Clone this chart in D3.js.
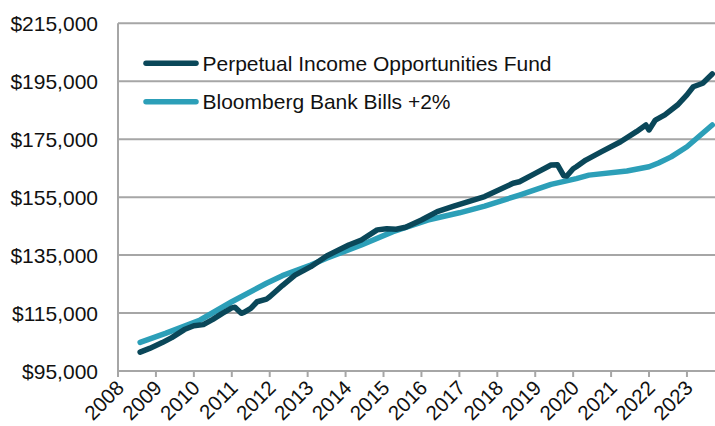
<!DOCTYPE html>
<html><head><meta charset="utf-8">
<script src="https://cdn.jsdelivr.net/npm/d3@7"></script>
<style>body{margin:0;background:#fff}svg{display:block}text{font-family:"Liberation Sans",Arial,sans-serif}</style>
</head><body><svg id="c" width="715" height="426"></svg>
<script>
const years = ["2008","2009","2010","2011","2012","2013","2014","2015","2016","2017","2018","2019","2020","2021","2022","2023"];
const yTicks = [95000,115000,135000,155000,175000,195000,215000];
const seriesNames = ["Perpetual Income Opportunities Fund","Bloomberg Bank Bills +2%"];
const seriesColors = ["#0a4759","#2c9fb8"];

const fundDates = ["2008-08","2008-11","2009-03","2009-06","2009-10","2010-01","2010-04","2010-07","2010-10","2011-01","2011-02","2011-04","2011-05","2011-07","2011-09","2011-12","2012-01","2012-05","2012-09","2013-02","2013-07","2014-02","2014-06","2014-11","2015-02","2015-05","2015-08","2016-01","2016-06","2016-11","2017-09","2018-06","2018-08","2019-01","2019-06","2019-08","2019-10","2019-11","2020-01","2020-02","2020-05","2020-10","2021-04","2021-09","2021-12","2022-01","2022-03","2022-06","2022-10","2023-01","2023-03","2023-06","2023-09"];
const fundValues = [101500,102800,104800,106500,109300,110600,111000,112800,114900,116800,117000,114900,115300,116600,118900,119800,120600,124500,128100,131000,134700,138500,140200,143700,144100,143900,144600,147100,150000,151800,155200,159800,160300,163200,166100,166200,162400,162300,164800,165500,167800,170700,174100,177600,179900,178200,181600,183400,186800,190300,193100,194300,197500];

const benchDates = ["2008-08","2009-04","2010-03","2011-01","2011-12","2012-05","2013-02","2013-07","2014-06","2015-04","2016-03","2017-01","2017-09","2018-08","2019-06","2020-02","2020-06","2021-06","2022-01","2022-04","2022-08","2023-01","2023-09"];
const benchValues = [104900,108000,112600,118900,125300,127900,131600,133900,138500,143100,147100,149600,151900,155700,159400,161400,162600,164000,165500,166800,168900,172400,179900];

const svg = d3.select("#c");
const L=118, R=716, T=23.3, B=371;
const parse = d3.timeParse("%Y-%m");
const dec = d => { const dt=parse(d); return dt.getFullYear()+dt.getMonth()/12; };
const x = d3.scaleLinear().domain([2008, 2008+(R-L)/37.93]).range([L,R]);
const y = d3.scaleLinear().domain([95000,215000]).range([B,T]);

svg.append("g").selectAll("line").data(yTicks.slice(1)).join("line")
  .attr("x1",L).attr("x2",R).attr("y1",d=>y(d)).attr("y2",d=>y(d))
  .attr("stroke","#a6a6a6").attr("stroke-width",2);

svg.append("g").selectAll("text").data(yTicks).join("text")
  .attr("x",98).attr("y",d=>y(d)).attr("dy","0.36em").attr("text-anchor","end")
  .attr("font-size",21).attr("fill","#111")
  .text(d=>"$"+d3.format(",")(d));

svg.append("line").attr("x1",L).attr("x2",L).attr("y1",T).attr("y2",B).attr("stroke","#a6a6a6").attr("stroke-width",2);
svg.append("line").attr("x1",L-1).attr("x2",R).attr("y1",B).attr("y2",B).attr("stroke","#a6a6a6").attr("stroke-width",2);
svg.append("g").selectAll("line").data(years).join("line")
  .attr("x1",d=>x(+d)).attr("x2",d=>x(+d)).attr("y1",B).attr("y2",B+6)
  .attr("stroke","#a6a6a6").attr("stroke-width",2);
svg.append("g").selectAll("text").data(years).join("text")
  .attr("transform",d=>`translate(${x(+d)+2},${B+13}) rotate(-45)`)
  .attr("text-anchor","end").attr("dy","0.36em")
  .attr("font-size",20.5).attr("fill","#111").text(d=>d);

const line = d3.line().x(d=>x(d[0])).y(d=>y(d[1])).curve(d3.curveLinear);
const benchData = benchDates.map((d,i)=>[dec(d),benchValues[i]]);
const fundData = fundDates.map((d,i)=>[dec(d),fundValues[i]]);
svg.append("path").datum(benchData).attr("d",line).attr("fill","none")
  .attr("stroke",seriesColors[1]).attr("stroke-width",5.5).attr("stroke-linejoin","round").attr("stroke-linecap","round");
svg.append("path").datum(fundData).attr("d",line).attr("fill","none")
  .attr("stroke",seriesColors[0]).attr("stroke-width",5.5).attr("stroke-linejoin","round").attr("stroke-linecap","round");

const lg = svg.append("g").selectAll("g").data(seriesNames).join("g")
  .attr("transform",(d,i)=>`translate(0,${63.3+i*38.4})`);
lg.append("line").attr("x1",146).attr("x2",196).attr("stroke",(d,i)=>seriesColors[i])
  .attr("stroke-width",5.5).attr("stroke-linecap","round");
lg.append("text").attr("x",202.5).attr("dy","0.36em").attr("font-size",21).attr("fill","#111").text(d=>d);
</script></body></html>
